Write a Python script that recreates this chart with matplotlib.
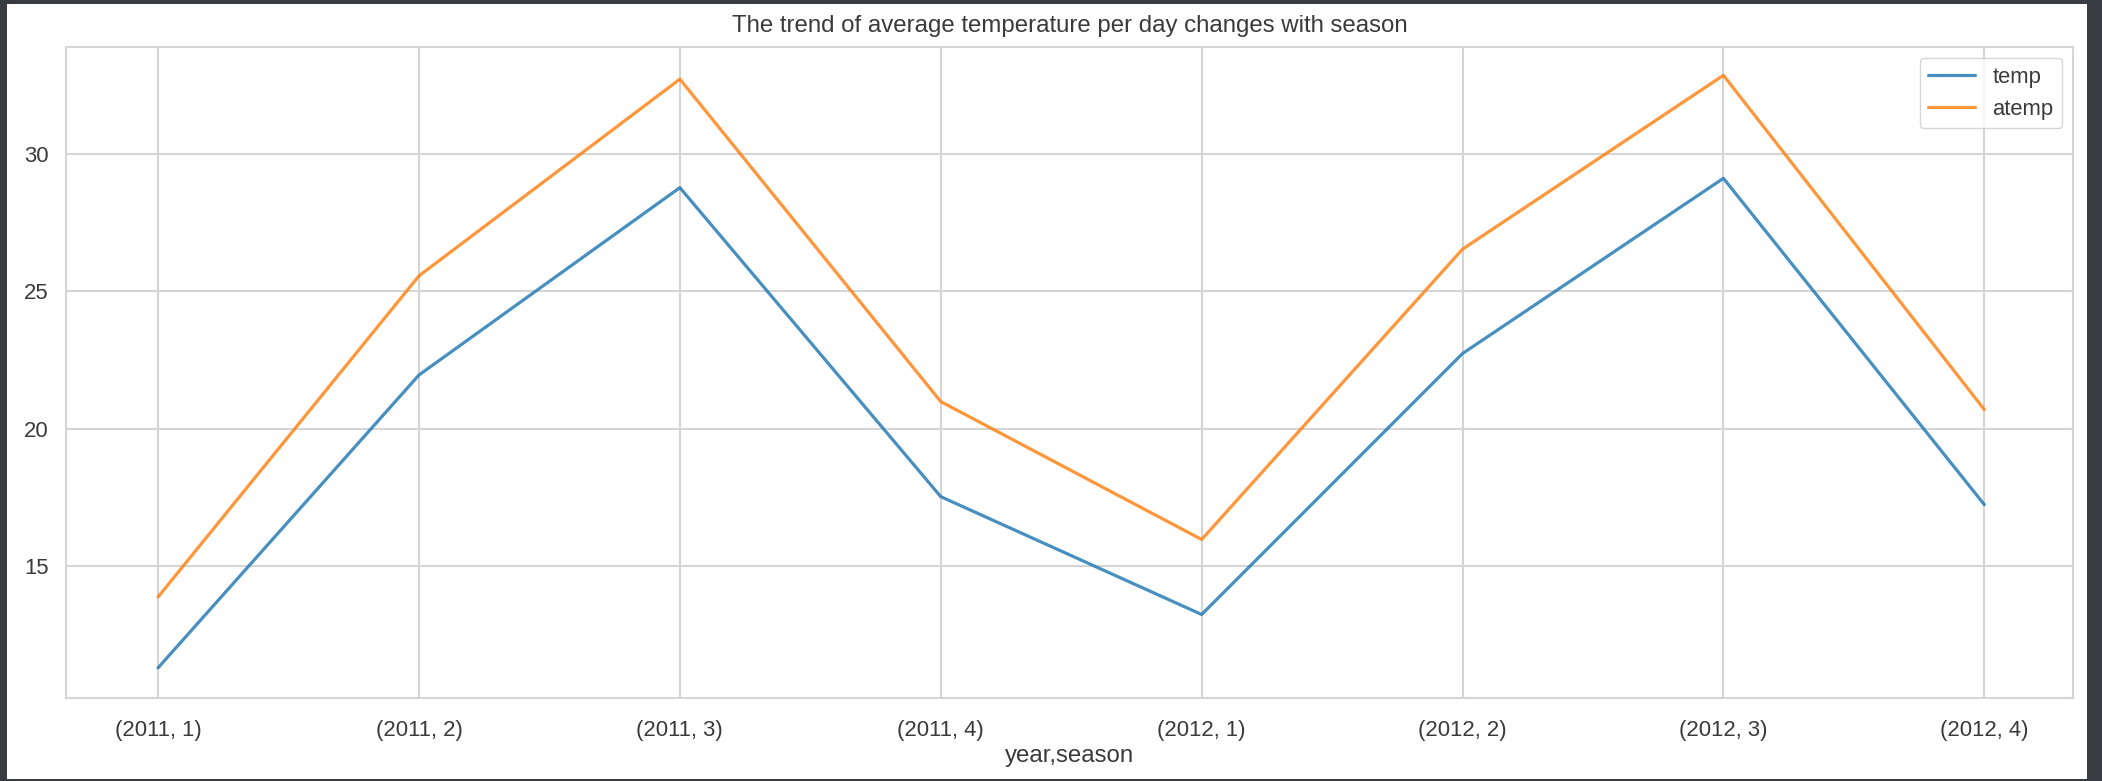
import matplotlib
matplotlib.use("Agg")
import matplotlib.pyplot as plt
from matplotlib.patches import Rectangle
import seaborn as sns

# mean temperature per (year, season)
labels = ["(2011, 1)", "(2011, 2)", "(2011, 3)", "(2011, 4)",
          "(2012, 1)", "(2012, 2)", "(2012, 3)", "(2012, 4)"]
temp = [11.30, 21.96, 28.78, 17.53, 13.24, 22.74, 29.12, 17.24]
atemp = [13.88, 25.57, 32.73, 20.99, 15.97, 26.54, 32.87, 20.70]

sns.set_style("whitegrid")
plt.rcParams['font.family'] = ['Liberation Sans', 'DejaVu Sans']

W, H = 2102, 781
fig = plt.figure(figsize=(W / 100, H / 100), dpi=100)
fig.patch.set_facecolor('#383c40')
# white notebook output area inside the dark frame
fig.patches.append(Rectangle((7 / W, 2 / H), (2087 - 7) / W, (777 - 2) / H,
                             transform=fig.transFigure, facecolor='white',
                             edgecolor='none', zorder=-5))

ax = fig.add_axes([66 / W, 1 - 698 / H, (2073 - 66) / W, (698 - 47) / H])
ax.set_zorder(1)
x = range(len(labels))
ax.plot(x, temp, color='#1f77b4', lw=2.3, alpha=0.82, label='temp')
ax.plot(x, atemp, color='#ff7f0e', lw=2.3, alpha=0.82, label='atemp')

ax.set_xlim(-0.353, 7.34)
ax.set_ylim(10.2, 33.9)
ax.set_xticks(list(x))
ax.set_xticklabels(labels)
ax.set_yticks([15, 20, 25, 30])
ax.tick_params(labelsize=15.9, colors='#3a3a3a')
ax.tick_params(axis='x', pad=12.5)
ax.tick_params(axis='y', pad=9)
ax.set_xlabel('year,season', fontsize=17.3, color='#3a3a3a', labelpad=3)
ax.set_title('The trend of average temperature per day changes with season',
             fontsize=17.3, color='#3a3a3a', pad=11)
for s in ax.spines.values():
    s.set_color('#d5d5d5')
    s.set_linewidth(1.5)
ax.grid(color='#d5d5d5', lw=1.5)

leg = ax.legend(loc='upper right', fontsize=15.8, frameon=True,
                borderaxespad=0.5, handlelength=2.1)
for t in leg.get_texts():
    t.set_color('#3a3a3a')

fig.savefig('out.png', dpi=100, facecolor=fig.get_facecolor())
